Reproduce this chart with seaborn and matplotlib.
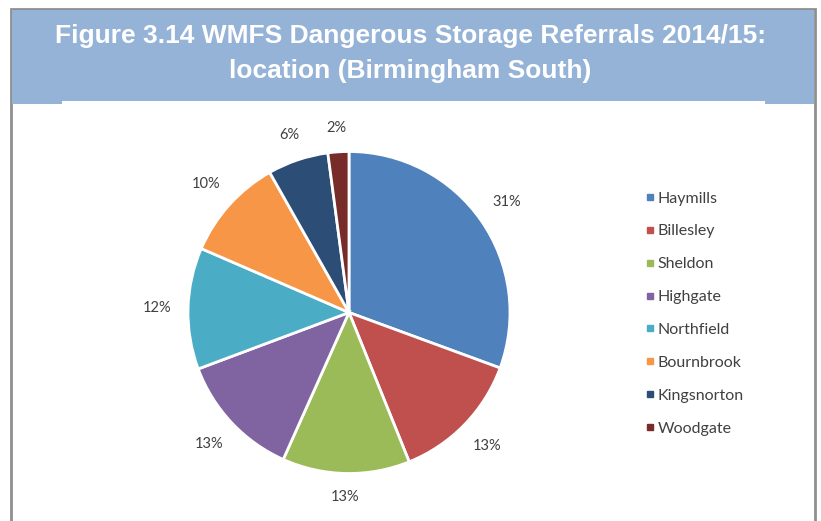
import matplotlib
matplotlib.use("Agg")
import numpy as np
import matplotlib.pyplot as plt
import seaborn as sns
from matplotlib.patches import Rectangle
from matplotlib.lines import Line2D

# Datos
locations = ['Haymills', 'Billesley', 'Sheldon', 'Highgate', 'Northfield',
             'Bournbrook', 'Kingsnorton', 'Woodgate']
shares = [30.6, 13.3, 12.8, 12.6, 12.2, 10.3, 6.1, 2.1]
colors = ['#4F81BD', '#C0504D', '#9BBB59', '#8064A2', '#4BACC6',
          '#F79646', '#2C4D75', '#772C2A']
title = 'Figure 3.14 WMFS Dangerous Storage Referrals 2014/15:\nlocation (Birmingham South)'

sns.set_theme(style='white')
plt.rcParams['font.family'] = ['Lato', 'DejaVu Sans']

W, H = 821, 521
fig = plt.figure(figsize=(W / 100, H / 100), dpi=100)

def fx(x):
    return x / W

def fy(y):
    return 1 - y / H

# marco gris y banda de título (debajo del pastel)
fig.add_artist(Rectangle((fx(11), fy(540)), fx(815) - fx(11), fy(9) - fy(540),
                         transform=fig.transFigure, facecolor='white',
                         edgecolor='#8f8f8f', lw=2, zorder=-10))
fig.add_artist(Rectangle((fx(12), fy(104)), fx(814) - fx(12), fy(10) - fy(104),
                         transform=fig.transFigure, facecolor='#95B3D7',
                         edgecolor='none', zorder=-9))
fig.add_artist(Rectangle((fx(62), fy(104)), fx(765) - fx(62), fy(101.5) - fy(104),
                         transform=fig.transFigure, facecolor='white',
                         edgecolor='none', zorder=-8))
fig.text(fx(410), fy(53.5), title, ha='center', va='center', color='white',
         fontsize=19, fontweight='bold', family=['Liberation Sans', 'DejaVu Sans'],
         linespacing=1.6)

# pastel: centro (349, 312.5), radio 161 px
r = 161
lim = 1.3
half = r * lim
ax = fig.add_axes([fx(349 - half), fy(312.5 + half), 2 * half / W, 2 * half / H])
ax.patch.set_alpha(0)
wedges, texts = ax.pie(shares, colors=colors, startangle=90, counterclock=False,
                       labels=[f'{v:.0f}%' for v in shares], labeldistance=1.2,
                       wedgeprops=dict(edgecolor='white', linewidth=2),
                       textprops=dict(color='#404040', fontsize=10.5))
ax.set_xlim(-lim, lim)
ax.set_ylim(-lim, lim)
ax.set_aspect('equal')
ax.axis('off')

# etiquetas a una distancia fija del borde, como en Excel
fig.canvas.draw()
renderer = fig.canvas.get_renderer()
gap = 0.1
for w, t in zip(wedges, texts):
    t.set_ha('center')
    t.set_va('center')
    ang = np.deg2rad((w.theta1 + w.theta2) / 2)
    bb = t.get_window_extent(renderer)
    hw = bb.width / 2 / r
    hh = bb.height / 2 / r
    d = 1 + gap + hw * abs(np.cos(ang)) + hh * abs(np.sin(ang))
    t.set_position((d * np.cos(ang), d * np.sin(ang)))

handles = [Line2D([], [], marker='s', linestyle='none', markersize=5,
                  markerfacecolor=c, markeredgecolor=c) for c in colors]
fig.legend(handles, locations, loc='upper left',
           bbox_to_anchor=(fx(639), fy(185)), frameon=False, fontsize=11.5,
           labelcolor='#404040', handlelength=0.6, handletextpad=0.15,
           labelspacing=1.17, borderaxespad=0)

plt.savefig('out.png', dpi=100)
